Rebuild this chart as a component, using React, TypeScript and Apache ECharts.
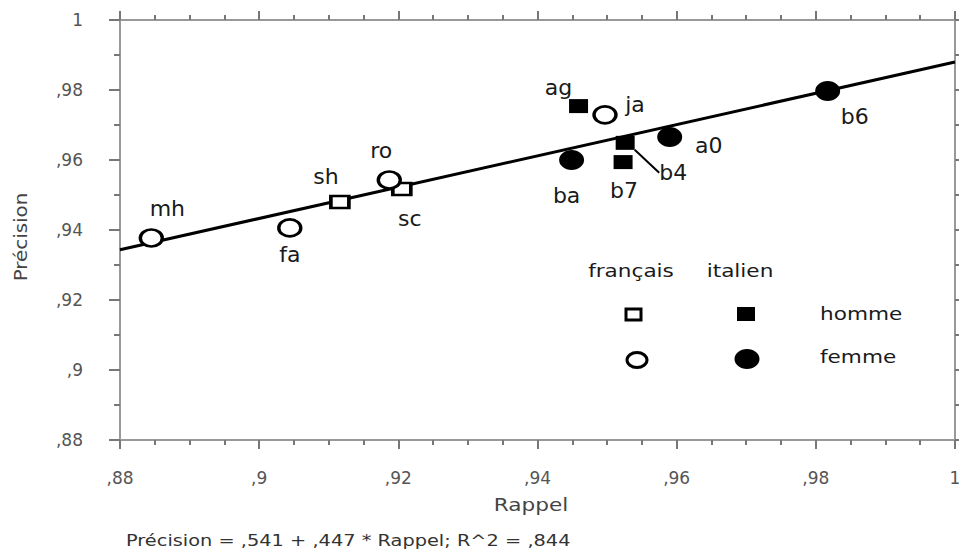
import React, { useEffect, useRef } from "react";
import * as echarts from "echarts";

// ---- data ----
const frHommeNames = ["sh", "sc"];
const frHommeRappel = [0.9116, 0.9205];
const frHommePrecision = [0.948, 0.9517];

const frFemmeNames = ["mh", "fa", "ro", "ja"];
const frFemmeRappel = [0.8845, 0.9044, 0.9187, 0.9497];
const frFemmePrecision = [0.9377, 0.9406, 0.9543, 0.9729];

const itHommeNames = ["ag", "b7", "b4"];
const itHommeRappel = [0.9459, 0.9523, 0.9526];
const itHommePrecision = [0.9754, 0.9594, 0.9649];

const itFemmeNames = ["ba", "a0", "b6"];
const itFemmeRappel = [0.9449, 0.959, 0.9817];
const itFemmePrecision = [0.96, 0.9666, 0.9797];

const intercept = 0.541;
const slope = 0.447;
const r2Text = ",844";

const axisMin = 0.88;
const axisMax = 1;
const axisStep = 0.02;

const xAxisTitle = "Rappel";
const yAxisTitle = "Précision";
const groupLabels = ["français", "italien"];
const sexLabels = ["homme", "femme"];
const footerText = "Précision = ,541 + ,447 * Rappel; R^2 = " + r2Text;

// ---- styling (label offsets in px) ----
const labelOffsets: Record<string, [number, number]> = {
  mh: [16, -30],
  fa: [0, 27],
  sh: [-14, -26],
  ro: [-8, -29],
  sc: [8, 29],
  ag: [-20, -19],
  ja: [30, -10],
  ba: [-5, 35],
  b7: [1, 28],
  b4: [48, 30],
  a0: [39, 9],
  b6: [27, 25],
};

const FONT = "DejaVu Sans";
const ELLIPSE =
  "path://M0,8 C0,3.6 4.5,0 10,0 C15.5,0 20,3.6 20,8 C20,12.4 15.5,16 10,16 C4.5,16 0,12.4 0,8 Z";

const fmt = (v: number) => {
  const s = Number(v.toFixed(2)).toString();
  return s.startsWith("0.") ? "," + s.slice(2) : s;
};

function buildData(names: string[], xs: number[], ys: number[]) {
  return names.map((n, i) => {
    const off = labelOffsets[n] || [0, -20];
    const item: any = {
      name: n,
      value: [xs[i], ys[i]],
      label: { offset: off },
    };
    if (n === "b4") {
      item.labelLine = {
        show: true,
        length2: 0,
        lineStyle: { color: "#000", width: 2 },
      };
    }
    return item;
  });
}

const pointLabel = {
  show: true,
  position: "inside",
  formatter: "{b}",
  fontFamily: FONT,
  fontSize: 22,
  color: "#1a1a1a",
  align: "center",
  verticalAlign: "middle",
};

const legendText = (text: string, x: number, y: number, align: string) => ({
  type: "text",
  x,
  y,
  scaleX: 1.27,
  style: {
    text,
    fontFamily: FONT,
    fontSize: 17,
    fill: "#1a1a1a",
    align,
    verticalAlign: "middle",
  },
});

export default function App() {
  const ref = useRef<HTMLDivElement>(null);
  useEffect(() => {
    if (!ref.current) return;
    const chart = echarts.init(ref.current, undefined, { renderer: "svg" });
    const axisLineStyle = { color: "#999", width: 2 };
    const xCommon = {
      type: "value",
      min: axisMin,
      max: axisMax,
      interval: axisStep,
      splitLine: { show: false },
      axisLine: { show: true, onZero: false, lineStyle: axisLineStyle },
      axisTick: { show: true, inside: false, length: 9, lineStyle: { color: "#777", width: 2 } },
      minorTick: { show: true, splitNumber: 4, length: 5, lineStyle: { color: "#777", width: 2 } },
      minorSplitLine: { show: false },
    };
    const yCommon = {
      type: "value",
      min: axisMin,
      max: axisMax,
      interval: axisStep,
      splitLine: { show: false },
      axisLine: { show: true, onZero: false, lineStyle: axisLineStyle },
      axisTick: { show: true, inside: false, length: 11, lineStyle: { color: "#777", width: 2 } },
      minorTick: { show: true, splitNumber: 2, length: 6, lineStyle: { color: "#777", width: 2 } },
      minorSplitLine: { show: false },
    };
    chart.setOption({
      animation: false,
      backgroundColor: "#fff",
      grid: {
        left: 120,
        right: 4,
        top: 20,
        bottom: 111,
        containLabel: false,
        outerBoundsMode: "none",
      },
      xAxis: [
        {
          ...xCommon,
          position: "bottom",
          axisLabel: {
            formatter: fmt,
            fontFamily: FONT,
            fontSize: 17,
            color: "#555",
            margin: 29,
          },
        },
        {
          ...xCommon,
          position: "top",
          axisLabel: { show: false },
        },
      ],
      yAxis: [
        {
          ...yCommon,
          position: "left",
          axisLabel: {
            formatter: fmt,
            fontFamily: FONT,
            fontSize: 17,
            color: "#555",
            margin: 37,
          },
        },
        {
          ...yCommon,
          position: "right",
          axisTick: { ...yCommon.axisTick, length: 5 },
          minorTick: { ...yCommon.minorTick, length: 4 },
          axisLabel: { show: false },
        },
      ],
      series: [
        {
          name: "régression",
          type: "line",
          data: [
            [axisMin, intercept + slope * axisMin],
            [axisMax, intercept + slope * axisMax],
          ],
          showSymbol: false,
          symbol: "none",
          lineStyle: { color: "#000", width: 3 },
          z: 1,
          silent: true,
        },
        {
          name: "français homme",
          type: "scatter",
          symbol: "rect",
          symbolSize: [18, 12],
          itemStyle: { color: "#fff", borderColor: "#000", borderWidth: 3, opacity: 1 },
          label: pointLabel,
          data: buildData(frHommeNames, frHommeRappel, frHommePrecision),
          z: 3,
        },
        {
          name: "français femme",
          type: "scatter",
          symbol: ELLIPSE,
          symbolSize: [22, 17],
          itemStyle: { color: "#fff", borderColor: "#000", borderWidth: 3, opacity: 1 },
          label: pointLabel,
          data: buildData(frFemmeNames, frFemmeRappel, frFemmePrecision),
          z: 3,
        },
        {
          name: "italien homme",
          type: "scatter",
          symbol: "rect",
          symbolSize: [19, 14],
          itemStyle: { color: "#000", opacity: 1 },
          label: pointLabel,
          data: buildData(itHommeNames, itHommeRappel, itHommePrecision),
          z: 3,
        },
        {
          name: "italien femme",
          type: "scatter",
          symbol: ELLIPSE,
          symbolSize: [25, 20],
          itemStyle: { color: "#000", opacity: 1 },
          label: pointLabel,
          data: buildData(itFemmeNames, itFemmeRappel, itFemmePrecision),
          z: 3,
        },
      ],
      graphic: [
        legendText(groupLabels[0], 631, 271, "center"),
        legendText(groupLabels[1], 740, 271, "center"),
        legendText(sexLabels[0], 820, 314, "left"),
        legendText(sexLabels[1], 820, 357, "left"),
        {
          type: "rect",
          shape: { x: 626, y: 309, width: 15, height: 11 },
          style: { fill: "#fff", stroke: "#000", lineWidth: 3 },
        },
        {
          type: "rect",
          shape: { x: 737, y: 307, width: 18, height: 14 },
          style: { fill: "#000" },
        },
        {
          type: "ellipse",
          shape: { cx: 637, cy: 360, rx: 10, ry: 7.5 },
          style: { fill: "#fff", stroke: "#000", lineWidth: 3 },
        },
        {
          type: "ellipse",
          shape: { cx: 747, cy: 359, rx: 12.5, ry: 10 },
          style: { fill: "#000" },
        },
        {
          type: "text",
          x: 531,
          y: 505,
          scaleX: 1.2,
          style: {
            text: xAxisTitle,
            fontFamily: FONT,
            fontSize: 18,
            fill: "#444",
            align: "center",
            verticalAlign: "middle",
          },
        },
        {
          type: "text",
          x: 21,
          y: 237,
          rotation: Math.PI / 2,
          scaleX: 1.17,
          style: {
            text: yAxisTitle,
            fontFamily: FONT,
            fontSize: 17,
            fill: "#444",
            align: "center",
            verticalAlign: "middle",
          },
        },
        {
          type: "text",
          x: 126,
          y: 541,
          scaleX: 1.21,
          style: {
            text: footerText,
            fontFamily: FONT,
            fontSize: 16,
            fill: "#333",
            align: "left",
            verticalAlign: "middle",
          },
        },
      ],
    });
    return () => chart.dispose();
  }, []);
  return <div ref={ref} style={{ width: 959, height: 551, position: "absolute", left: 0, top: 0 }} />;
}
